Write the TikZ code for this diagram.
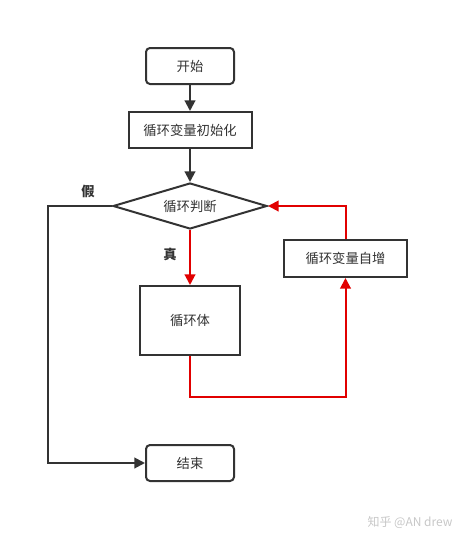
\documentclass[tikz,border=0pt]{standalone}
\usepackage{fontspec}
\setmainfont{Noto Sans CJK SC}
\usetikzlibrary{shapes.geometric,arrows.meta}
\definecolor{dk}{RGB}{51,51,51}
\definecolor{rd}{RGB}{225,0,0}
\begin{document}
\begin{tikzpicture}[x=0.75pt,y=-0.75pt,
  box/.style={draw=dk,line width=1.5pt,fill=white,inner sep=0pt,font=\fontsize{10}{12}\selectfont,text=dk},
  rbox/.style={box,rounded corners=3pt},
  conn/.style={draw=dk,line width=1.5pt,-{Triangle[length=8pt,width=8pt]}},
  rconn/.style={draw=rd,line width=1.5pt,-{Triangle[length=8pt,width=8pt]}},
  lab/.style={font=\fontsize{10}{12}\selectfont\bfseries,text=dk}]
\useasboundingbox (0,0) rectangle (469,543);
\node[rbox,minimum width=88*0.75pt,minimum height=36*0.75pt] (start) at (190,66) {开始};
\node[box,minimum width=123*0.75pt,minimum height=36*0.75pt] (init) at (190,130) {循环变量初始化};
\node[box,diamond,minimum width=154*0.75pt,minimum height=46*0.75pt,aspect=3.35] (d) at (190,206) {循环判断};
\node[box,minimum width=100*0.75pt,minimum height=69*0.75pt] (body) at (190,320.5) {循环体};
\node[box,minimum width=123*0.75pt,minimum height=37*0.75pt] (inc) at (345.5,258.5) {循环变量自增};
\node[rbox,minimum width=88*0.75pt,minimum height=36*0.75pt] (end) at (190,463) {结束};
\node[lab] (f) at (88,191) {假};
\node[lab] (t) at (170,254) {真};
\node[font=\fontsize{9}{11}\selectfont,text=black!22] (wm) at (410,522) {知乎 @AN drew};
\coordinate (fl) at (48,206);
\coordinate (lb) at (190,397);
\draw[conn] (start) -- (init);
\draw[conn] (init) -- (d);
\draw[conn] (d.west) -- (fl) |- (end.west);
\draw[rconn] (d.south) -- (body.north);
\draw[rconn] (body.south) -- (lb) -| (inc.south);
\draw[rconn] (inc.north) |- (d.east);
\end{tikzpicture}
\end{document}
